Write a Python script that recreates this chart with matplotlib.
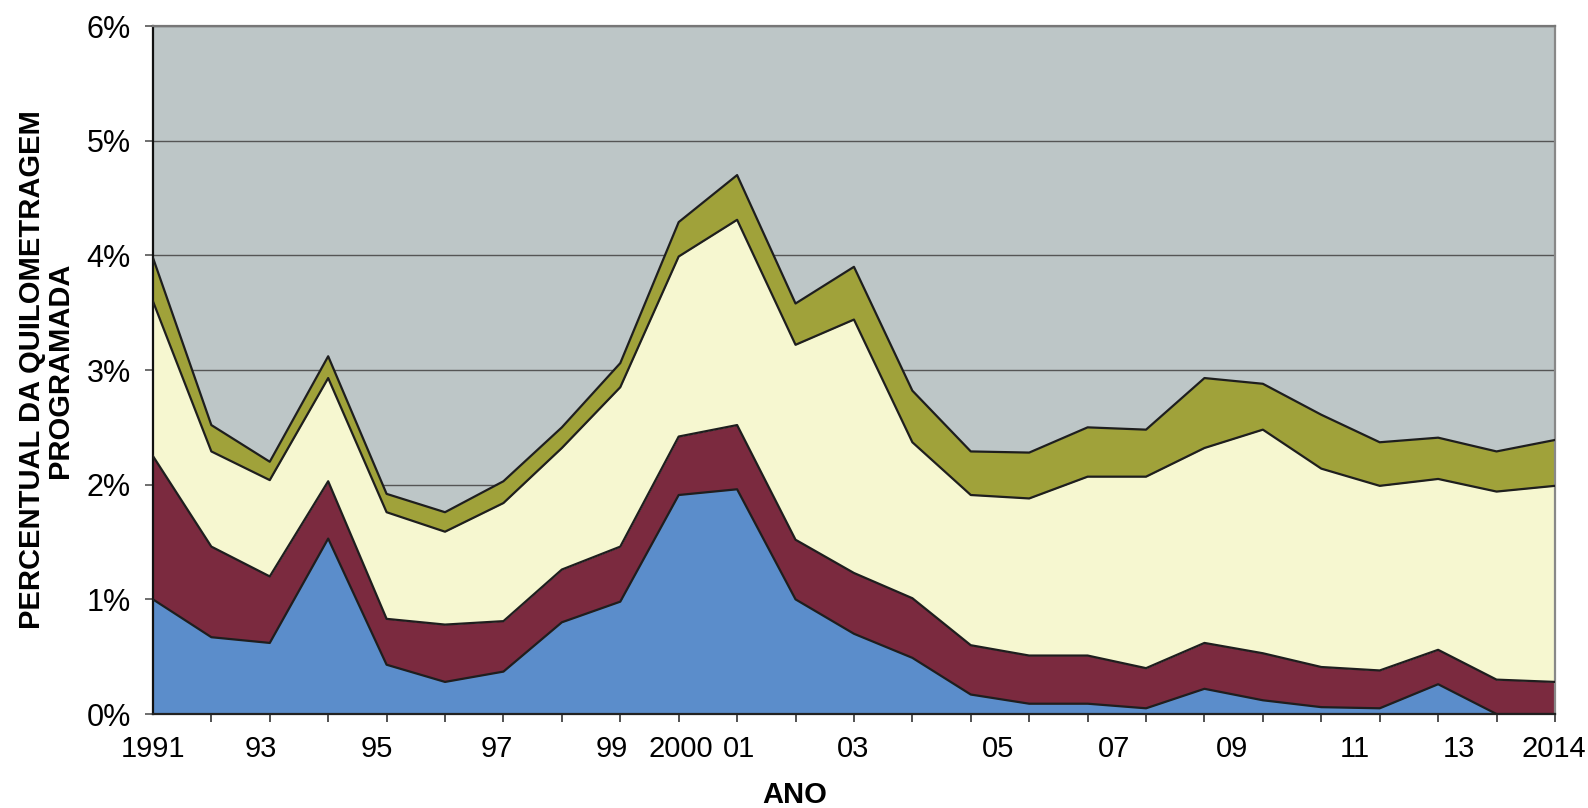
import matplotlib.pyplot as plt
import numpy as np

plt.rcParams['font.family'] = ['Liberation Sans', 'DejaVu Sans']

# 25 pontos no eixo (o gráfico original tem 25 vértices entre 1991 e 2014)
pontos = np.arange(25)

# espessura de cada camada (% da quilometragem programada)
azul = [1.00, 0.67, 0.62, 1.53, 0.43, 0.28, 0.37, 0.80, 0.98, 1.91, 1.96, 1.00, 0.70,
        0.49, 0.17, 0.09, 0.09, 0.05, 0.22, 0.12, 0.06, 0.05, 0.26, 0.00, 0.00]
vinho = [1.25, 0.79, 0.58, 0.50, 0.40, 0.50, 0.44, 0.46, 0.48, 0.51, 0.56, 0.52, 0.53,
         0.52, 0.43, 0.42, 0.42, 0.35, 0.40, 0.41, 0.35, 0.33, 0.30, 0.30, 0.28]
amarelo = [1.35, 0.83, 0.84, 0.90, 0.93, 0.81, 1.03, 1.06, 1.39, 1.57, 1.79, 1.70, 2.21,
           1.36, 1.31, 1.37, 1.56, 1.67, 1.70, 1.95, 1.73, 1.61, 1.49, 1.64, 1.71]
oliva = [0.38, 0.23, 0.16, 0.19, 0.16, 0.17, 0.19, 0.18, 0.21, 0.30, 0.39, 0.36, 0.46,
         0.45, 0.38, 0.40, 0.43, 0.41, 0.61, 0.40, 0.47, 0.38, 0.36, 0.35, 0.40]

rotulos = ['1991', '93', '95', '97', '99', '2000', '01', '03', '05', '07', '09', '11', '13', '2014']
pos_rotulos = [0, 1.85, 3.84, 5.89, 7.85, 9.04, 10.03, 11.99, 14.46, 16.45, 18.48, 20.58, 22.36, 23.98]
y_ticks = [0, 1, 2, 3, 4, 5, 6]

cores = ['#5b8dcb', '#7b2a3f', '#f6f7d0', '#a0a23a']

fig = plt.figure(figsize=(15.88, 8.08), dpi=100)
ax = fig.add_axes([0.0963, 0.1163, 0.8829, 0.8515])
ax.set_facecolor('#bdc6c7')

camadas = [azul, vinho, amarelo, oliva]
base = np.zeros(len(pontos))
for vals, cor in zip(camadas, cores):
    topo = base + np.array(vals)
    ax.fill_between(pontos, base, topo, color=cor, linewidth=0, zorder=2)
    ax.plot(pontos, topo, color='#1e1e1e', linewidth=1.6, zorder=3)
    base = topo

ax.set_xlim(0, 24)
ax.set_ylim(0, 6)
ax.set_yticks(y_ticks, labels=[f'{v}%' for v in y_ticks])
ax.grid(axis='y', color='#555555', linewidth=1, zorder=1)
ax.set_axisbelow(True)

ax.set_xticks(pontos, minor=True)
ax.set_xticks(pos_rotulos, labels=rotulos)
ax.tick_params(axis='x', which='major', length=0, pad=15, labelsize=21)
ax.tick_params(axis='x', which='minor', length=6, width=1.2, color='#333333')
ax.tick_params(axis='y', length=6, width=1.2, color='#555555', pad=10, labelsize=22)

for lado, cor in [('left', '#111111'), ('bottom', '#222222'), ('top', '#777777'), ('right', '#888888')]:
    ax.spines[lado].set_color(cor)
    ax.spines[lado].set_linewidth(1.6)

ax.set_ylabel('PERCENTUAL DA QUILOMETRAGEM\nPROGRAMADA', fontsize=21, fontweight='bold',
              linespacing=1.0)
ax.yaxis.set_label_coords(-0.056, 0.5)
ax.set_xlabel('ANO', fontsize=21, fontweight='bold')
ax.xaxis.set_label_coords(0.458, -0.098)

fig.savefig('out.png', dpi=100)
